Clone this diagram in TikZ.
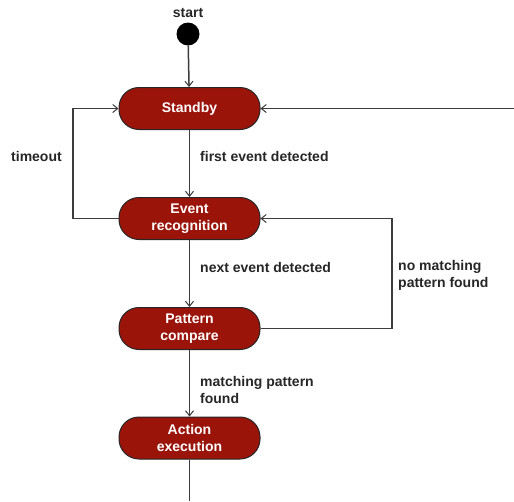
\documentclass[tikz,border=0pt]{standalone}
\usepackage{fontspec}
\setmainfont{Liberation Sans}
\usetikzlibrary{arrows.meta}
\definecolor{statered}{RGB}{155,20,10}
\definecolor{linegray}{RGB}{60,60,60}
\begin{document}
\begin{tikzpicture}[x=1pt,y=-1pt,
  state/.style={draw=black!85, line width=1pt, fill=statered, rounded corners=20pt,
    minimum width=141pt, minimum height=42pt, text=white, font=\bfseries\fontsize{14}{17.5}\selectfont,
    align=center, inner sep=0pt},
  lbl/.style={font=\bfseries\fontsize{14}{17}\selectfont, text=black!85, align=left, inner sep=0pt},
  flow/.style={draw=linegray, line width=1.5pt, -{Straight Barb[length=5pt,width=8pt,line width=1pt]}},
  plain/.style={draw=linegray, line width=1.5pt}]
\useasboundingbox (0,0) rectangle (514,501);
\node[circle, fill=black, minimum size=23pt, inner sep=0pt] (start) at (188,34) {};
\node[lbl] (startl) at (188,13) {start};
\node[state] (standby) at (189.5,108.5) {Standby};
\node[state] (event) at (189.5,218.5) {Event\\recognition};
\node[state] (pattern) at (189.5,328.5) {Pattern\\compare};
\node[state] (action) at (189.5,438) {Action\\execution};
\coordinate (inR) at (514,108.5);
\coordinate (outB) at (189.5,501);
\coordinate (tl) at (73,218.5);
\coordinate (tu) at (73,108.5);
\coordinate (nr) at (392,328.5);
\coordinate (nu) at (392,218.5);

\draw[flow] (start) -- (standby);
\draw[flow] (inR) -- (standby.east);
\draw[flow] (standby) -- (event);
\draw[flow] (event) -- (pattern);
\draw[flow] (pattern) -- (action);
\draw[plain] (action) -- (outB);
\draw[flow] (event.west) -- (tl) -- (tu) -- (standby.west);
\draw[flow] (pattern.east) -- (nr) -- (nu) -- (event.east);

\node[lbl, anchor=west] (l1) at (11,156) {timeout};
\node[lbl, anchor=west] (l2) at (200,156) {first event detected};
\node[lbl, anchor=west] (l3) at (200,267) {next event detected};
\node[lbl, anchor=west] (l4) at (398,275.5) {no matching\\pattern found};
\node[lbl, anchor=west] (l5) at (200,389.5) {matching pattern\\found};
\end{tikzpicture}
\end{document}
